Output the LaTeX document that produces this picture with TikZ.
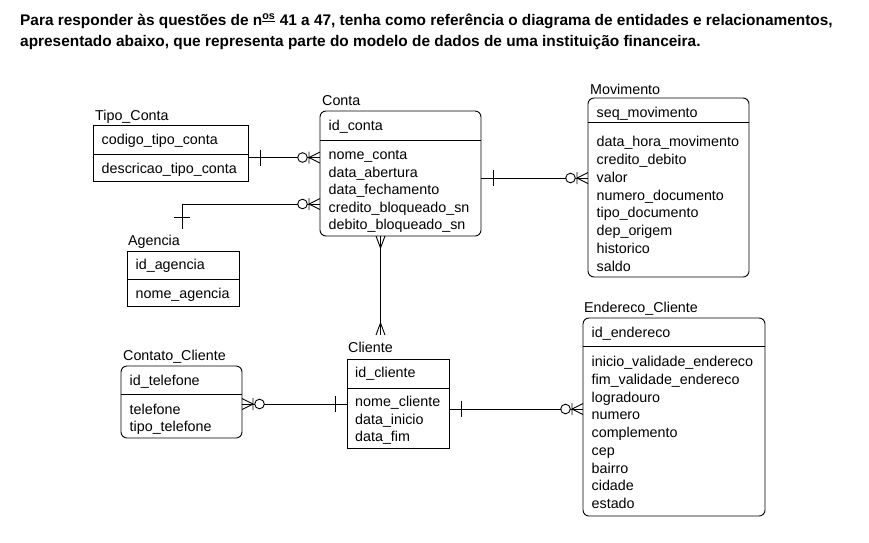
\documentclass[tikz,border=0pt]{standalone}
\usepackage{fontspec}
\setmainfont{Liberation Sans}
\begin{document}
\begin{tikzpicture}[x=1pt,y=-1pt,
  rel/.style={line width=0.9pt},
  ent/.style={draw, line width=0.9pt, inner sep=0pt, outer sep=0pt, anchor=north west},
  rent/.style={ent, rounded corners=6pt},
  att/.style={anchor=base west, inner sep=0pt, font=\fontsize{14.3}{17}\selectfont},
  hdr/.style={anchor=base west, inner sep=0pt, font=\bfseries\fontsize{15.4}{18}\selectfont},
  onebar/.pic={\draw[rel] (12,-8) -- (12,8);},
  crowfoot/.pic={\draw[rel] (-12,0) -- (0,-4.5) (-12,0) -- (0,4.5);},
  zcrow/.pic={\draw[rel] (-11,0) -- (0,-5.5) (-11,0) -- (0,5.5) (-11,-6) -- (-11,6);
              \draw[rel, fill=white] (-17.5,0) circle (4.8);},
]
\useasboundingbox (0,0) rectangle (869,542);
\fill[white] (0,0) rectangle (869,542);

% header
\node[hdr] (h1) at (20,25) {Para responder às questões de n\textsuperscript{\underline{os}} 41 a 47, tenha como referência o diagrama de entidades e relacionamentos,};
\node[hdr] (h2) at (20,46) {apresentado abaixo, que representa parte do modelo de dados de uma instituição financeira.};

% Tipo_Conta
\node[ent, minimum width=155pt, minimum height=56pt] (tipo) at (93,125) {};
\draw[rel] (tipo.west |- 0,154) -- (tipo.east |- 0,154);
\node[att] (tipoT) at (95,120) {Tipo\_Conta};
\node[att] (tipo1) at (101.5,144.5) {codigo\_tipo\_conta};
\node[att] (tipo2) at (101.5,173.5) {descricao\_tipo\_conta};

% Conta
\node[rent, minimum width=161pt, minimum height=125pt] (conta) at (320,111) {};
\draw[rel] (conta.west |- 0,140) -- (conta.east |- 0,140);
\node[att] (contaT) at (322,105) {Conta};
\node[att] (conta0) at (328.5,130.5) {id\_conta};
\node[att] (conta1) at (328.5,159.5) {nome\_conta};
\node[att] (conta2) at (328.5,177) {data\_abertura};
\node[att] (conta3) at (328.5,194.5) {data\_fechamento};
\node[att] (conta4) at (328.5,212) {credito\_bloqueado\_sn};
\node[att] (conta5) at (328.5,229.5) {debito\_bloqueado\_sn};

% Movimento
\node[rent, minimum width=161pt, minimum height=179pt] (mov) at (588,98) {};
\draw[rel] (mov.west |- 0,122) -- (mov.east |- 0,122);
\node[att] (movT) at (590,94) {Movimento};
\node[att] (mov0) at (596.5,117.5) {seq\_movimento};
\node[att] (mov1) at (596.5,146.5) {data\_hora\_movimento};
\node[att] (mov2) at (596.5,164.35) {credito\_debito};
\node[att] (mov3) at (596.5,182.2) {valor};
\node[att] (mov4) at (596.5,200.05) {numero\_documento};
\node[att] (mov5) at (596.5,217.9) {tipo\_documento};
\node[att] (mov6) at (596.5,235.75) {dep\_origem};
\node[att] (mov7) at (596.5,253.6) {historico};
\node[att] (mov8) at (596.5,271.45) {saldo};

% Agencia
\node[ent, minimum width=112pt, minimum height=55pt] (ag) at (127,251) {};
\draw[rel] (ag.west |- 0,279) -- (ag.east |- 0,279);
\node[att] (agT) at (128,245) {Agencia};
\node[att] (ag0) at (135.5,269.5) {id\_agencia};
\node[att] (ag1) at (135.5,298.5) {nome\_agencia};

% Contato_Cliente
\node[rent, minimum width=121pt, minimum height=72pt] (cont) at (121,366) {};
\draw[rel] (cont.west |- 0,394) -- (cont.east |- 0,394);
\node[att] (contT) at (123,360.5) {Contato\_Cliente};
\node[att] (cont0) at (129.5,385.5) {id\_telefone};
\node[att] (cont1) at (129.5,414.5) {telefone};
\node[att] (cont2) at (129.5,431.5) {tipo\_telefone};

% Cliente
\node[ent, minimum width=102pt, minimum height=89pt] (cli) at (347,359) {};
\draw[rel] (cli.west |- 0,388) -- (cli.east |- 0,388);
\node[att] (cliT) at (348,352) {Cliente};
\node[att] (cli0) at (355,377.5) {id\_cliente};
\node[att] (cli1) at (355,406.5) {nome\_cliente};
\node[att] (cli2) at (355,424) {data\_inicio};
\node[att] (cli3) at (355,441.5) {data\_fim};

% Endereco_Cliente
\node[rent, minimum width=182pt, minimum height=198pt] (end) at (583,318) {};
\draw[rel] (end.west |- 0,346) -- (end.east |- 0,346);
\node[att] (endT) at (584,312) {Endereco\_Cliente};
\node[att] (end0) at (591.5,337.5) {id\_endereco};
\node[att] (end1) at (591.5,366.5) {inicio\_validade\_endereco};
\node[att] (end2) at (591.5,384.25) {fim\_validade\_endereco};
\node[att] (end3) at (591.5,402) {logradouro};
\node[att] (end4) at (591.5,419.75) {numero};
\node[att] (end5) at (591.5,437.5) {complemento};
\node[att] (end6) at (591.5,455.25) {cep};
\node[att] (end7) at (591.5,473) {bairro};
\node[att] (end8) at (591.5,490.75) {cidade};
\node[att] (end9) at (591.5,508.5) {estado};

% connectors
\coordinate (agTop) at (182,229);
\coordinate (cliTop) at (380.5,335);

% Tipo_Conta - Conta
\draw[rel] (tipo.east |- 0,157.5) -- (conta.west |- 0,157.5);
\pic at (tipo.east |- 0,157.5) {onebar};
\pic at (conta.west |- 0,157.5) {zcrow};

% Agencia - Conta
\draw[rel] (agTop) |- (conta.west |- 0,204);
\pic[rotate=90] at (agTop) {onebar};
\pic at (conta.west |- 0,204) {zcrow};

% Conta - Movimento
\draw[rel] (conta.east |- 0,178) -- (mov.west |- 0,178);
\pic at (conta.east |- 0,178) {onebar};
\pic at (mov.west |- 0,178) {zcrow};

% Conta - Cliente
\draw[rel] (380.5,0 |- conta.south) -- (cliTop);
\pic[rotate=90] at (380.5,0 |- conta.south) {crowfoot};
\pic[rotate=-90] at (cliTop) {crowfoot};

% Contato_Cliente - Cliente
\draw[rel] (cont.east |- 0,404) -- (cli.west |- 0,404);
\pic[rotate=180] at (cont.east |- 0,404) {zcrow};
\pic[rotate=180] at (cli.west |- 0,404) {onebar};

% Cliente - Endereco_Cliente
\draw[rel] (cli.east |- 0,409) -- (end.west |- 0,409);
\pic at (cli.east |- 0,409) {onebar};
\pic at (end.west |- 0,409) {zcrow};
\end{tikzpicture}
\end{document}
